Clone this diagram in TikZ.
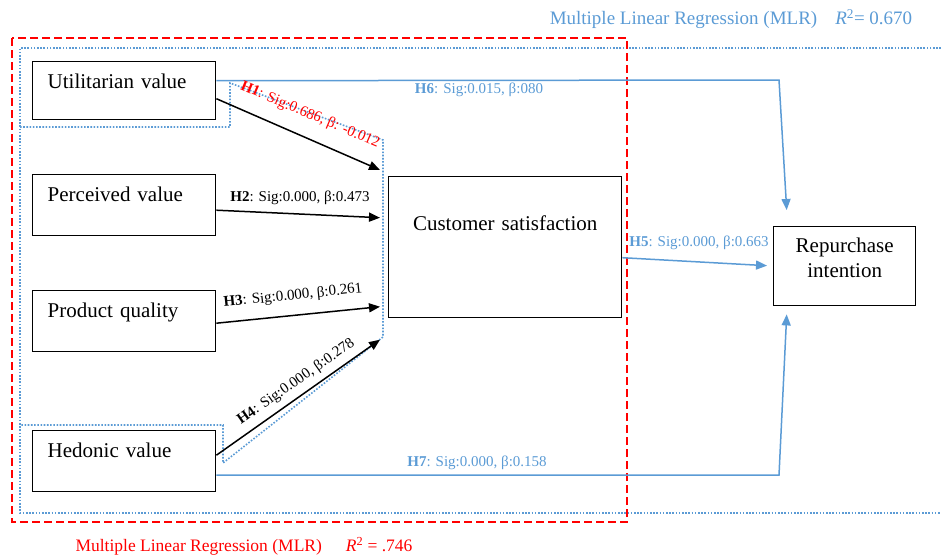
\documentclass[tikz,border=0pt]{standalone}
\usepackage{fontspec}
\setmainfont{Liberation Serif}
\usetikzlibrary{arrows.meta}
\definecolor{mlrblue}{RGB}{91,155,213}
\definecolor{mlrred}{RGB}{255,0,0}

\begin{document}
\begin{tikzpicture}[x=1pt, y=-1pt, >={Triangle[length=11pt,width=9pt]}]
  \tikzset{every node/.style={font=\fontsize{15}{18}\selectfont},
    factor/.style={draw, line width=1.4pt, anchor=north west, inner xsep=15pt, inner ysep=0pt,
      text width=153pt, align=left, text height=27pt, text depth=34pt, font=\fontsize{21}{25}\selectfont},
    hyp/.style={->, line width=1.5pt},
    hypblue/.style={->, line width=1.5pt, mlrblue},
    zone/.style={mlrblue, line width=1.6pt, dash pattern=on 1.6pt off 1.6pt},
    region/.style={mlrred, line width=1.8pt, dash pattern=on 8pt off 4pt}}
  \useasboundingbox (0,0) rectangle (941,554);

  % regression zones
  \draw[zone] (941,48) -- (20,48) -- (20,513) -- (941,513);
  \draw[zone] (20,127) -- (230,127) -- (230,83) -- (383,140) -- (383,337) -- (223,463) -- (223,425) -- (20,425);
  \draw[region] (12,38) rectangle (627,522);

  % constructs
  \node[factor, text depth=31pt] (util) at (32,61)  {Utilitarian value};
  \node[factor] (perc) at (32,174) {Perceived value};
  \node[factor] (qual) at (32,290) {Product quality};
  \node[factor] (hed)  at (32,430) {Hedonic value};
  \node[factor, inner xsep=0pt, text width=233pt, align=center, text height=54pt, text depth=87pt] (cs) at (388,176) {Customer satisfaction};
  \node[factor, inner xsep=0pt, text width=142pt, align=center, text height=26pt, text depth=53pt] (rep) at (773,226) {Repurchase\\intention};

  % paths to customer satisfaction
  \draw[hyp] ([yshift=-8pt]util.east) -- ([xshift=-8pt,yshift=6pt]cs.north west);
  \draw[hyp] ([yshift=-5pt]perc.east) -- ([xshift=-8pt,yshift=29.5pt]cs.west);
  \draw[hyp] ([yshift=-2pt]qual.east) -- ([xshift=-8pt,yshift=-59.5pt]cs.west);
  \draw[hyp] ([yshift=6pt]hed.east) -- ([xshift=-8pt,yshift=-92.5pt]cs.west);

  % paths to repurchase intention
  \coordinate (c6) at (779,80);
  \coordinate (c7) at (779,475);
  \draw[hypblue] ([yshift=-10.5pt]cs.east) -- ([xshift=-6pt,yshift=0.5pt]rep.west);
  \draw[hypblue] ([yshift=10pt]util.east) -- (c6) -- ([xshift=-58pt,yshift=16pt]rep.north);
  \draw[hypblue] ([yshift=-14pt]hed.east) -- (c7) -- ([xshift=-58pt,yshift=-8pt]rep.south);

  % hypothesis labels
  \node[mlrred, rotate=-23] (lh1) at (310,115) {\textbf{H1}: Sig:0.686, β: -0.012};
  \node (lh2) at (300,198) {\textbf{H2}: Sig:0.000, β:0.473};
  \node[rotate=6] (lh3) at (293,296) {\textbf{H3}: Sig:0.000, β:0.261};
  \node[rotate=35] (lh4) at (296,382) {\textbf{H4}: Sig:0.000, β:0.278};
  \node[mlrblue] (lh5) at (699,243) {\textbf{H5}: Sig:0.000, β:0.663};
  \node[mlrblue] (lh6) at (479,90) {\textbf{H6}: Sig:0.015, β:080};
  \node[mlrblue] (lh7) at (477,463) {\textbf{H7}: Sig:0.000, β:0.158};

  % model fit
  \node[mlrblue, font=\fontsize{19}{22}\selectfont] (mlrtop) at (731,19) {Multiple Linear Regression (MLR)\hspace{18pt}\textit{R}\textsuperscript{2}= 0.670};
  \node[mlrred, font=\fontsize{17.5}{20}\selectfont] (mlrbot) at (244,546) {Multiple Linear Regression (MLR)\hspace{24pt}\textit{R}\textsuperscript{2} = .746};
\end{tikzpicture}
\end{document}
